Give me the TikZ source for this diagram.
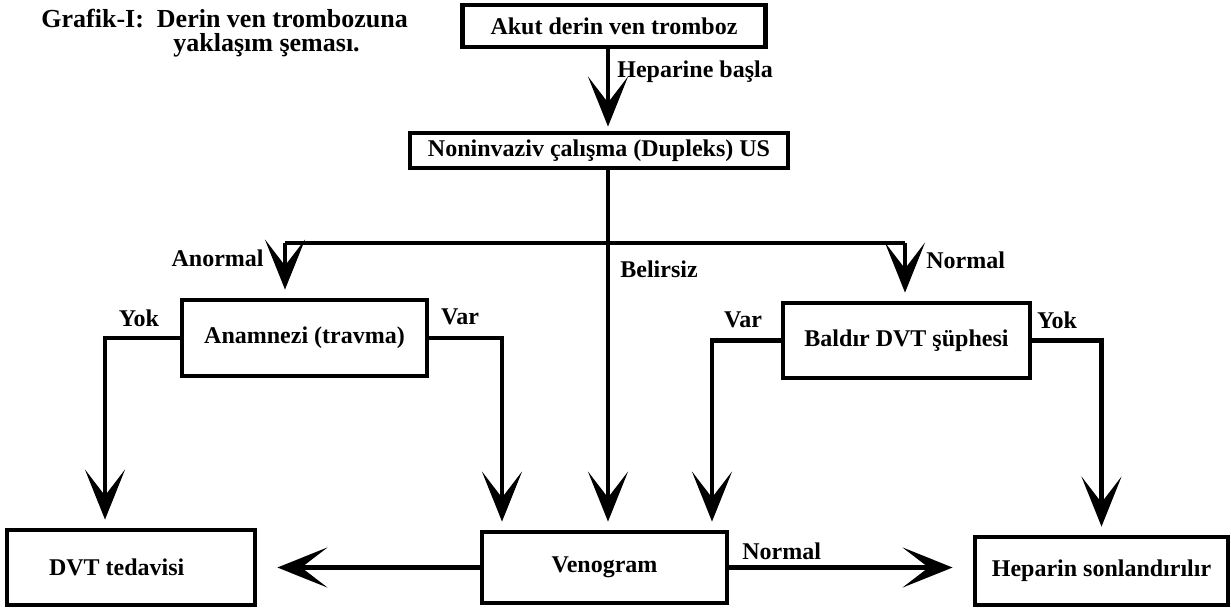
\documentclass[tikz,border=0pt]{standalone}
\usepackage{fontspec}
\setmainfont{Liberation Serif}
\usepackage{tikz}
\usetikzlibrary{calc,shapes,arrows.meta,positioning}

\begin{document}
\begin{tikzpicture}[x=0.5pt,y=-0.5pt,
    >={Stealth[length=25pt,width=20pt,inset=13pt]},
    kutu/.style={draw,line width=2.4pt,font=\bfseries\fontsize{12}{14}\selectfont,inner sep=0pt},
    ok/.style={line width=2.4pt,shorten >=4pt,->},
    hat/.style={line width=2.4pt},
    etiket/.style={font=\bfseries\fontsize{12}{14}\selectfont,inner sep=0pt}]
        \useasboundingbox (0,0) rectangle (1231,610);
        \node[anchor=north west,align=left,inner sep=0pt,font=\bfseries\fontsize{13}{12}\selectfont] (baslik) at (41,9)
            {Grafik-I:\ \ Derin ven trombozuna\\\hspace*{66pt}yaklaşım şeması.};
        \node[kutu,minimum width=151.5pt,minimum height=21pt] (akut) at (614,26) {Akut derin ven tromboz};
        \node[kutu,minimum width=189pt,minimum height=17.5pt] (noninv) at (599,150.5) {Noninvaziv çalışma (Dupleks) US};
        \node[kutu,minimum width=122.5pt,minimum height=38pt] (anam) at (304.5,338) {Anamnezi (travma)};
        \node[kutu,minimum width=123.5pt,minimum height=37.5pt] (baldir) at (906.5,340.5) {Baldır DVT şüphesi};
        \node[kutu,minimum width=124pt,minimum height=37.5pt] (dvt) at (131,567.5) {\hspace*{21pt}\makebox[103pt][l]{DVT tedavisi}};
        \node[kutu,minimum width=122.5pt,minimum height=35.5pt] (ven) at (604.5,567.5) {Venogram};
        \node[kutu,minimum width=126.5pt,minimum height=34pt] (hep) at (1101.5,571) {Heparin sonlandırılır};
        \coordinate (dal) at (608,243);
        \coordinate (sol) at (285,243);
        \coordinate (sag) at (905,243);
        \coordinate (yok1) at (105,338);
        \coordinate (var1) at (502,338);
        \coordinate (var2) at (712,340.5);
        \draw[ok,shorten >=2pt] (akut.south -| dal) -- (noninv.north -| dal);
        \draw[hat] (noninv.south -| dal) -- (dal);
        \draw[ok] (dal) -- (ven.north -| dal);
        \draw[hat] (sol) -- (sag);
        \draw[ok] (sol) -- (sol |- anam.north);
        \draw[ok] (sag) -- (sag |- baldir.north);
        \draw[ok] (anam.west) -- (yok1) -- (yok1 |- dvt.north);
        \draw[ok] (anam.east) -- (var1) -- (var1 |- ven.north);
        \draw[ok] (baldir.west) -- (var2) -- (var2 |- ven.north);
        \draw[ok] (baldir.east) -| (hep.north);
        \draw[ok,shorten >=10pt] (ven.west) -- (dvt.east);
        \draw[ok,shorten >=10pt] (ven.east) -- (ven.east -| hep.west);
        \node[etiket,anchor=west] (lbasla) at (617,72) {Heparine başla};
        \node[etiket,anchor=east] (lanormal) at (264,258) {Anormal};
        \node[etiket,anchor=west] (lnormal) at (926,260) {Normal};
        \node[etiket,anchor=west] (lbelirsiz) at (620,269) {Belirsiz};
        \node[etiket] (lyok1) at (139,318) {Yok};
        \node[etiket] (lvar1) at (460,317) {Var};
        \node[etiket] (lvar2) at (743,320) {Var};
        \node[etiket] (lyok2) at (1057,320) {Yok};
        \node[etiket,anchor=west] (lnormal2) at (742,551) {Normal};
\end{tikzpicture}
\end{document}
